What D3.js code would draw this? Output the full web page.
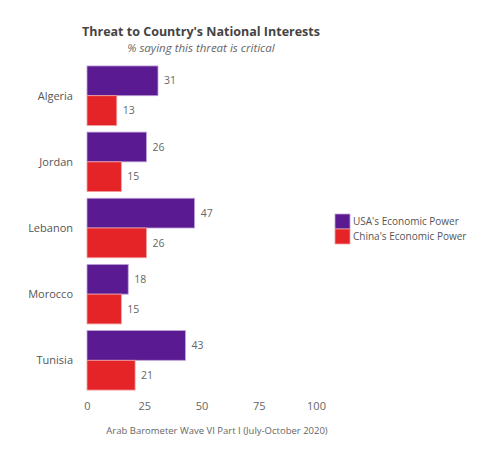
<!DOCTYPE html>
<html>
<head>
<meta charset="utf-8">
<script src="https://cdn.jsdelivr.net/npm/d3@7"></script>
<style>
  body { margin: 0; background: #fff; }
  text { font-family: "Open Sans", "DejaVu Sans", sans-serif; }
</style>
</head>
<body>
<div class="chart"></div>
<script>
var countries = ["Algeria", "Jordan", "Lebanon", "Morocco", "Tunisia"];
var usaValues = [31, 26, 47, 18, 43];
var chinaValues = [13, 15, 26, 15, 21];
var seriesNames = ["USA's Economic Power", "China's Economic Power"];
var seriesColors = ["#5a1a92", "#e42427"];
var xTicks = [0, 25, 50, 75, 100];

var data = countries.map((c, i) => ({ name: c, values: [usaValues[i], chinaValues[i]] }));

var fullWidth = 500;
var fullHeight = 462;

var svg = d3
  .select(".chart")
  .append("svg")
  .attr("width", fullWidth)
  .attr("height", fullHeight);

var xScale = d3
  .scaleLinear()
  .domain([0, 100])
  .range([87, 316]);

var yScale = d3
  .scaleBand()
  .domain(countries)
  .range([58, 398])
  .paddingInner(0.1)
  .paddingOuter(0.12);

var subScale = d3
  .scaleBand()
  .domain([0, 1])
  .range([0, yScale.bandwidth()]);

// title
svg.append("text")
  .attr("x", 201)
  .attr("y", 36)
  .attr("text-anchor", "middle")
  .style("font-size", "12.5px")
  .style("font-weight", "bold")
  .style("fill", "#444")
  .text("Threat to Country's National Interests");

svg.append("text")
  .attr("x", 201)
  .attr("y", 52)
  .attr("text-anchor", "middle")
  .style("font-size", "11.5px")
  .style("font-style", "italic")
  .style("fill", "#666")
  .text("% saying this threat is critical");

// country labels
svg.append("g")
  .selectAll("text")
  .data(countries)
  .join("text")
  .attr("x", 73)
  .attr("y", d => yScale(d) + yScale.bandwidth() / 2)
  .attr("dy", "0.35em")
  .attr("text-anchor", "end")
  .style("font-size", "11px")
  .style("fill", "#555")
  .text(d => d);

var groups = svg.append("g")
  .selectAll("g")
  .data(data)
  .join("g")
  .attr("transform", d => `translate(0, ${yScale(d.name)})`);

groups.selectAll("rect")
  .data(d => d.values)
  .join("rect")
  .attr("x", xScale(0))
  .attr("y", (d, i) => subScale(i))
  .attr("width", d => xScale(d) - xScale(0))
  .attr("height", subScale.bandwidth())
  .style("fill", (d, i) => seriesColors[i])
  .style("stroke", (d, i) => i ? "#f2a0a2" : "#c0a4da")
  .style("stroke-width", 0.8);

groups.selectAll("text")
  .data(d => d.values)
  .join("text")
  .attr("x", d => xScale(d) + 6)
  .attr("y", (d, i) => subScale(i) + subScale.bandwidth() / 2)
  .attr("dy", "0.35em")
  .style("font-size", "10.5px")
  .style("fill", "#666")
  .text(d => d);

// x axis
var xAxis = d3.axisBottom(xScale)
  .tickValues(xTicks)
  .tickSize(0)
  .tickPadding(0);

var axisG = svg.append("g")
  .attr("transform", "translate(0, 402)")
  .call(xAxis);
axisG.select(".domain").remove();
axisG.selectAll("text")
  .attr("dy", "0.71em")
  .style("font-size", "11px")
  .style("font-family", "'Open Sans', sans-serif")
  .style("fill", "#666");

// caption
svg.append("text")
  .attr("x", 217)
  .attr("y", 434)
  .attr("text-anchor", "middle")
  .style("font-size", "9.5px")
  .style("fill", "#666")
  .text("Arab Barometer Wave VI Part I (July-October 2020)");

// legend
var legend = svg.append("g")
  .attr("transform", "translate(335, 214)")
  .selectAll("g")
  .data(seriesNames)
  .join("g")
  .attr("transform", (d, i) => `translate(0, ${i * 15})`);

legend.append("rect")
  .attr("width", 15)
  .attr("height", 15)
  .style("fill", (d, i) => seriesColors[i])
  .style("stroke", (d, i) => i ? "#f2a0a2" : "#c0a4da")
  .style("stroke-width", 0.8);

legend.append("text")
  .attr("x", 18)
  .attr("y", 7.5)
  .attr("dy", "0.35em")
  .style("font-size", "10px")
  .style("fill", "#555")
  .text(d => d);
</script>
</body>
</html>
